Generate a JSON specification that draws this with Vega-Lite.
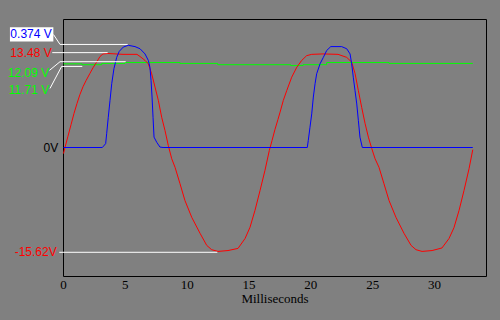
{
  "$schema": "https://vega.github.io/schema/vega-lite/v6.json",
  "width": 423,
  "height": 257,
  "autosize": {"type": "none"},
  "padding": {"left": 63, "top": 19, "right": 14, "bottom": 44},
  "background": "#808080",
  "config": {"view": {"stroke": null}},
  "datasets": {
    "signals": [
      {"s":"ch1","t":0.04,"v":-0.14},{"s":"ch1","t":0.16,"v":0},{"s":"ch1","t":0.40,"v":0.26},{"s":"ch1","t":0.65,"v":0.53},{"s":"ch1","t":0.89,"v":0.79},{"s":"ch1","t":1.13,"v":1.02},{"s":"ch1","t":1.37,"v":1.23},{"s":"ch1","t":1.62,"v":1.41},{"s":"ch1","t":1.86,"v":1.55},{"s":"ch1","t":2.18,"v":1.72},{"s":"ch1","t":2.45,"v":1.86},{"s":"ch1","t":2.72,"v":1.98},{"s":"ch1","t":2.99,"v":2.11},{"s":"ch1","t":3.23,"v":2.17},{"s":"ch1","t":3.64,"v":2.18},{"s":"ch1","t":4.85,"v":2.16},{"s":"ch1","t":5.98,"v":2.16},{"s":"ch1","t":6.23,"v":2.11},{"s":"ch1","t":6.63,"v":2.02},{"s":"ch1","t":6.90,"v":1.94},{"s":"ch1","t":7.17,"v":1.71},{"s":"ch1","t":7.44,"v":1.40},{"s":"ch1","t":7.71,"v":1.09},{"s":"ch1","t":7.98,"v":0.70},{"s":"ch1","t":8.25,"v":0.39},{"s":"ch1","t":8.51,"v":0.05},{"s":"ch1","t":8.79,"v":-0.26},{"s":"ch1","t":9.06,"v":-0.46},{"s":"ch1","t":9.46,"v":-0.84},{"s":"ch1","t":9.86,"v":-1.23},{"s":"ch1","t":10.41,"v":-1.62},{"s":"ch1","t":11.08,"v":-1.99},{"s":"ch1","t":11.62,"v":-2.27},{"s":"ch1","t":12.02,"v":-2.37},{"s":"ch1","t":12.53,"v":-2.41},{"s":"ch1","t":13.34,"v":-2.39},{"s":"ch1","t":14.15,"v":-2.34},{"s":"ch1","t":14.72,"v":-2.11},{"s":"ch1","t":15.12,"v":-1.85},{"s":"ch1","t":15.52,"v":-1.46},{"s":"ch1","t":15.93,"v":-1.00},{"s":"ch1","t":16.33,"v":-0.53},{"s":"ch1","t":16.68,"v":-0.07},{"s":"ch1","t":16.90,"v":0.16},{"s":"ch1","t":17.14,"v":0.42},{"s":"ch1","t":17.38,"v":0.65},{"s":"ch1","t":17.55,"v":0.82},{"s":"ch1","t":17.81,"v":1.09},{"s":"ch1","t":18.09,"v":1.32},{"s":"ch1","t":18.49,"v":1.63},{"s":"ch1","t":18.90,"v":1.86},{"s":"ch1","t":19.30,"v":2.02},{"s":"ch1","t":19.70,"v":2.13},{"s":"ch1","t":20.11,"v":2.16},{"s":"ch1","t":21.02,"v":2.17},{"s":"ch1","t":22.24,"v":2.16},{"s":"ch1","t":22.94,"v":2.09},{"s":"ch1","t":23.34,"v":1.98},{"s":"ch1","t":23.61,"v":1.72},{"s":"ch1","t":23.88,"v":1.32},{"s":"ch1","t":24.15,"v":0.93},{"s":"ch1","t":24.42,"v":0.56},{"s":"ch1","t":24.69,"v":0.24},{"s":"ch1","t":24.96,"v":-0.02},{"s":"ch1","t":25.23,"v":-0.26},{"s":"ch1","t":25.55,"v":-0.46},{"s":"ch1","t":25.95,"v":-0.84},{"s":"ch1","t":26.36,"v":-1.23},{"s":"ch1","t":26.92,"v":-1.62},{"s":"ch1","t":27.57,"v":-1.99},{"s":"ch1","t":28.14,"v":-2.27},{"s":"ch1","t":28.54,"v":-2.37},{"s":"ch1","t":29.03,"v":-2.41},{"s":"ch1","t":29.84,"v":-2.39},{"s":"ch1","t":30.64,"v":-2.33},{"s":"ch1","t":31.21,"v":-2.11},{"s":"ch1","t":31.61,"v":-1.86},{"s":"ch1","t":32.02,"v":-1.46},{"s":"ch1","t":32.42,"v":-1.00},{"s":"ch1","t":32.83,"v":-0.49},{"s":"ch1","t":33.13,"v":-0.05},
      {"s":"ch2","t":0.04,"v":0},{"s":"ch2","t":3.18,"v":0},{"s":"ch2","t":3.45,"v":0.09},{"s":"ch2","t":3.53,"v":0.32},{"s":"ch2","t":3.66,"v":0.70},{"s":"ch2","t":3.80,"v":1.09},{"s":"ch2","t":3.94,"v":1.48},{"s":"ch2","t":4.12,"v":1.83},{"s":"ch2","t":4.34,"v":2.09},{"s":"ch2","t":4.55,"v":2.23},{"s":"ch2","t":4.88,"v":2.33},{"s":"ch2","t":5.28,"v":2.37},{"s":"ch2","t":5.82,"v":2.34},{"s":"ch2","t":6.23,"v":2.29},{"s":"ch2","t":6.63,"v":2.17},{"s":"ch2","t":6.90,"v":2.02},{"s":"ch2","t":7.03,"v":1.86},{"s":"ch2","t":7.12,"v":1.55},{"s":"ch2","t":7.20,"v":1.17},{"s":"ch2","t":7.28,"v":0.70},{"s":"ch2","t":7.36,"v":0.24},{"s":"ch2","t":7.58,"v":0.12},{"s":"ch2","t":7.84,"v":0.01},{"s":"ch2","t":8.09,"v":0},{"s":"ch2","t":19.75,"v":0},{"s":"ch2","t":19.83,"v":0.16},{"s":"ch2","t":19.97,"v":0.47},{"s":"ch2","t":20.11,"v":0.78},{"s":"ch2","t":20.24,"v":1.17},{"s":"ch2","t":20.38,"v":1.48},{"s":"ch2","t":20.51,"v":1.71},{"s":"ch2","t":20.78,"v":1.94},{"s":"ch2","t":21.05,"v":2.09},{"s":"ch2","t":21.32,"v":2.25},{"s":"ch2","t":21.65,"v":2.34},{"s":"ch2","t":22.53,"v":2.34},{"s":"ch2","t":22.94,"v":2.29},{"s":"ch2","t":23.21,"v":2.17},{"s":"ch2","t":23.34,"v":1.94},{"s":"ch2","t":23.47,"v":1.63},{"s":"ch2","t":23.61,"v":1.32},{"s":"ch2","t":23.75,"v":1.01},{"s":"ch2","t":23.88,"v":0.63},{"s":"ch2","t":24.01,"v":0.24},{"s":"ch2","t":24.20,"v":0},{"s":"ch2","t":33.13,"v":0},
      {"s":"ch3","t":0.04,"v":1.94},{"s":"ch3","t":1.54,"v":1.92},{"s":"ch3","t":3.13,"v":1.95},{"s":"ch3","t":5.01,"v":1.97},{"s":"ch3","t":9.46,"v":1.95},{"s":"ch3","t":12.51,"v":1.92},{"s":"ch3","t":18.41,"v":1.90},{"s":"ch3","t":19.41,"v":1.92},{"s":"ch3","t":21.32,"v":1.97},{"s":"ch3","t":26.36,"v":1.95},{"s":"ch3","t":33.13,"v":1.95}
    ],
    "leaders": [
      {"id":"a","t":-0.77,"v":2.62},{"id":"a","t":-0.24,"v":2.39},{"id":"a","t":5.23,"v":2.39},
      {"id":"b","t":-0.87,"v":2.20},{"id":"b","t":3.61,"v":2.20},
      {"id":"c","t":-1.09,"v":1.79},{"id":"c","t":-0.24,"v":1.99},{"id":"c","t":5.07,"v":1.99},
      {"id":"d","t":-1.05,"v":1.37},{"id":"d","t":-0.11,"v":1.88},{"id":"d","t":1.56,"v":1.88},
      {"id":"e","t":-0.30,"v":-2.43},{"id":"e","t":12.48,"v":-2.43}
    ],
    "labels": [
      {"s":"ch2","text":"0.374 V","t":-0.91,"v":2.64},
      {"s":"ch1","text":"13.48 V","t":-0.91,"v":2.18},
      {"s":"ch3","text":"12.09 V","t":-1.11,"v":1.73},
      {"s":"ch3","text":"11.71 V","t":-1.11,"v":1.33},
      {"s":"ref","text":"0V","t":-0.38,"v":0},
      {"s":"ch1","text":"-15.62V","t":-0.51,"v":-2.43}
    ],
    "box": [{"t1":-4.29,"t2":-0.78,"v1":2.79,"v2":2.46}]
  },
  "resolve": {"axis": {"x": "independent", "y": "independent"}},
  "layer": [
    {
      "data": {"name": "signals"},
      "transform": [{"filter": "datum.s === 'ch3'"}],
      "mark": {"type": "line", "interpolate": "step-after", "strokeWidth": 1},
      "encoding": {
        "x": {"field": "t", "type": "quantitative", "scale": {"domain": [0, 34.2], "nice": false, "zero": false},
          "axis": {"orient": "bottom", "values": [0,5,10,15,20,25,30], "tickSize": 0, "labelPadding": 2.5, "labelFlush": false,
            "domainColor": "#000000", "tickColor": "#000000", "labelColor": "#000000", "labelFont": "Liberation Serif", "labelFontSize": 13,
            "title": "Milliseconds", "titleFont": "Liberation Serif", "titleFontSize": 13, "titleFontWeight": "normal", "titleColor": "#000000", "titlePadding": 1,
            "grid": false,
            "encode": {"ticks": {"update": {"y2": {"signal": "datum.value % 10 === 0 ? -12 : -6"}}}}}},
        "y": {"field": "v", "type": "quantitative", "scale": {"domain": [-2.98, 2.98], "nice": false, "zero": false},
          "axis": {"orient": "left", "values": [-2,-1,0,1,2], "tickSize": 0, "labels": false, "title": null, "grid": false,
            "domainColor": "#000000", "tickColor": "#000000",
            "encode": {"ticks": {"update": {"x2": {"signal": "datum.value % 2 === 0 ? 12 : 6"}}}}}},
        "color": {"field": "s", "type": "nominal", "legend": null,
          "scale": {"domain": ["ch1","ch2","ch3","ref"], "range": ["#ff0000","#0000ff","#00ff00","#000000"]}}
      }
    },
    {
      "data": {"name": "signals"},
      "transform": [{"filter": "datum.s === 'ch1'"}],
      "mark": {"type": "line", "strokeWidth": 1},
      "encoding": {
        "x": {"field": "t", "type": "quantitative",
          "axis": {"orient": "top", "values": [0,5,10,15,20,25,30], "tickSize": 0, "labels": false, "title": null, "grid": false,
            "domainColor": "#000000", "tickColor": "#000000",
            "encode": {"ticks": {"update": {"y2": {"signal": "datum.value % 10 === 0 ? 12 : 6"}}}}}},
        "y": {"field": "v", "type": "quantitative",
          "axis": {"orient": "right", "values": [-2,-1,0,1,2], "tickSize": 0, "labels": false, "title": null, "grid": false,
            "domainColor": "#000000", "tickColor": "#000000",
            "encode": {"ticks": {"update": {"x2": {"signal": "datum.value % 2 === 0 ? -12 : -6"}}}}}},
        "color": {"field": "s", "type": "nominal", "legend": null}
      }
    },
    {
      "data": {"name": "signals"},
      "transform": [{"filter": "datum.s === 'ch2'"}],
      "mark": {"type": "line", "strokeWidth": 1},
      "encoding": {
        "x": {"field": "t", "type": "quantitative", "axis": null},
        "y": {"field": "v", "type": "quantitative", "axis": null},
        "color": {"field": "s", "type": "nominal", "legend": null}
      }
    },
    {
      "data": {"name": "leaders"},
      "mark": {"type": "line", "strokeWidth": 1, "color": "#ffffff"},
      "encoding": {
        "x": {"field": "t", "type": "quantitative", "axis": null},
        "y": {"field": "v", "type": "quantitative", "axis": null},
        "detail": {"field": "id", "type": "nominal"}
      }
    },
    {
      "data": {"name": "box"},
      "mark": {"type": "rect", "color": "#ffffff"},
      "encoding": {
        "x": {"field": "t1", "type": "quantitative", "axis": null},
        "x2": {"field": "t2"},
        "y": {"field": "v1", "type": "quantitative", "axis": null},
        "y2": {"field": "v2"}
      }
    },
    {
      "data": {"name": "labels"},
      "mark": {"type": "text", "align": "right", "baseline": "middle", "font": "Liberation Sans", "fontSize": 12},
      "encoding": {
        "x": {"field": "t", "type": "quantitative", "axis": null},
        "y": {"field": "v", "type": "quantitative", "axis": null},
        "text": {"field": "text"},
        "color": {"field": "s", "type": "nominal", "legend": null}
      }
    }
  ]
}
